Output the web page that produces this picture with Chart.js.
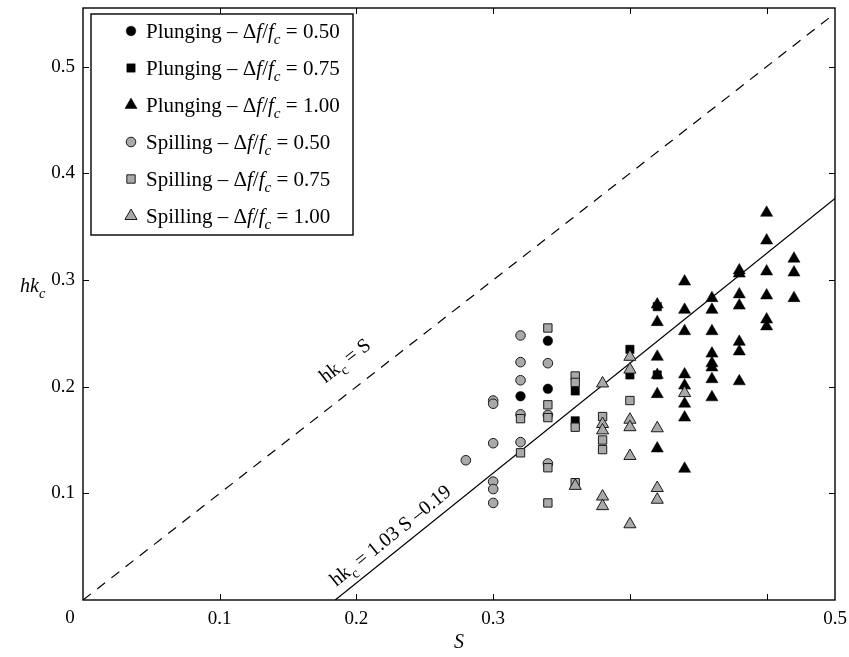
<!DOCTYPE html>
<html><head><meta charset="utf-8">
<script src="https://cdn.jsdelivr.net/npm/chart.js@4/dist/chart.umd.min.js"></script>
<style>html,body{margin:0;padding:0;background:#fff;}#wrap{width:849px;height:657px;position:relative;}canvas{display:block;}</style>
</head><body><div id="wrap"><canvas id="c" width="849" height="657" style="width:849px;height:657px"></canvas></div>
<script>
// ---- data ----
const plungeCircleS  = [0.32, 0.34, 0.34];
const plungeCircleHk = [0.191, 0.243, 0.198];

const plungeSquareS  = [0.36, 0.36, 0.40, 0.40, 0.42, 0.42];
const plungeSquareHk = [0.196, 0.168, 0.235, 0.211, 0.275, 0.211];

const plungeTriS  = [0.42,0.42,0.42,0.42,0.42,0.42,
                     0.44,0.44,0.44,0.44,0.44,0.44,0.44,0.44,
                     0.46,0.46,0.46,0.46,0.46,0.46,0.46,0.46,
                     0.48,0.48,0.48,0.48,0.48,0.48,0.48,
                     0.50,0.50,0.50,0.50,0.50,0.50,
                     0.52,0.52,0.52];
const plungeTriHk = [0.277,0.2605,0.228,0.211,0.193,0.142,
                     0.2985,0.272,0.252,0.2115,0.201,0.184,0.171,0.123,
                     0.283,0.272,0.252,0.231,0.222,0.218,0.207,0.190,
                     0.309,0.306,0.2865,0.276,0.242,0.233,0.205,
                     0.363,0.337,0.308,0.2855,0.263,0.2565,
                     0.320,0.307,0.283];

const spillCircleS  = [0.28, 0.30,0.30,0.30,0.30,0.30,0.30, 0.32,0.32,0.32,0.32,0.32, 0.34,0.34,0.34];
const spillCircleHk = [0.131, 0.187,0.184,0.147,0.111,0.104,0.091, 0.248,0.223,0.206,0.174,0.148, 0.222,0.1735,0.128];

const spillSquareS  = [0.32,0.32, 0.34,0.34,0.34,0.34,0.34, 0.36,0.36,0.36,0.36, 0.38,0.38,0.38, 0.40];
const spillSquareHk = [0.170,0.138, 0.255,0.183,0.171,0.124,0.091, 0.210,0.204,0.162,0.110, 0.172,0.150,0.141, 0.187];

const spillTriS  = [0.36, 0.38,0.38,0.38,0.38,0.38, 0.40,0.40,0.40,0.40,0.40,0.40, 0.42,0.42,0.42, 0.44];
const spillTriHk = [0.107, 0.203,0.165,0.159,0.097,0.088, 0.228,0.216,0.169,0.162,0.135,0.071, 0.161,0.105,0.094, 0.194];

// reference line hk = S and fitted line hk = 1.03 S - 0.19
const refLineS = [0, 0.55];
const fitSlope = 1.03, fitIntercept = -0.19;
const fitLineS = [-fitIntercept / fitSlope, 0.55];

// axes / ticks
const xMin = 0, xMax = 0.55, yMin = 0, yMax = 0.555;
const xTickValues = [0.1, 0.2, 0.3, 0.4, 0.5, 0.55];
const xTickLabels = ['0.1', '0.2', '0.3', '', '', '0.5'];
const yTickValues = [0.1, 0.2, 0.3, 0.4, 0.5];
const yTickLabels = ['0.1', '0.2', '0.3', '0.4', '0.5'];
const cornerLabel = '0';

const legendLabels = ['Plunging', 'Plunging', 'Plunging', 'Spilling', 'Spilling', 'Spilling'];
const legendRatios = ['0.50', '0.75', '1.00', '0.50', '0.75', '1.00'];

// ---- styles ----
const FONT = "'Liberation Serif','Times New Roman',serif";
const GRAY = '#a9a9a9';
const EDGE = '#1a1a1a';

function pts(xs, ys) { return xs.map((v, i) => ({x: v, y: ys[i]})); }

const markerStyles = [
  {pointStyle: 'circle',   radius: 4.8, bg: '#000', border: '#000', bw: 0.5},
  {pointStyle: 'rect',     radius: 5.9, bg: '#000', border: '#000', bw: 0.5},
  {pointStyle: 'triangle', radius: 7.0, bg: '#000', border: '#000', bw: 0.5},
  {pointStyle: 'circle',   radius: 4.8, bg: GRAY, border: EDGE, bw: 1},
  {pointStyle: 'rect',     radius: 5.9, bg: GRAY, border: EDGE, bw: 1},
  {pointStyle: 'triangle', radius: 7.0, bg: GRAY, border: EDGE, bw: 1},
];
const seriesData = [
  pts(plungeCircleS, plungeCircleHk),
  pts(plungeSquareS, plungeSquareHk),
  pts(plungeTriS, plungeTriHk),
  pts(spillCircleS, spillCircleHk),
  pts(spillSquareS, spillSquareHk),
  pts(spillTriS, spillTriHk),
];

const datasets = seriesData.map((d, i) => ({
  label: legendLabels[i] + ' ' + legendRatios[i],
  data: d,
  pointStyle: markerStyles[i].pointStyle,
  pointRadius: markerStyles[i].radius,
  pointHoverRadius: markerStyles[i].radius,
  backgroundColor: markerStyles[i].bg,
  borderColor: markerStyles[i].border,
  pointBorderWidth: markerStyles[i].bw,
  borderWidth: markerStyles[i].bw,
  showLine: false,
  order: 5 - i
}));
datasets.push({
  label: 'hk = S', type: 'line', data: refLineS.map(s => ({x: s, y: s})),
  borderColor: '#000', borderWidth: 1.2, borderDash: [10, 8], pointRadius: 0, fill: false, order: 10
});
datasets.push({
  label: 'fit', type: 'line', data: fitLineS.map(s => ({x: s, y: fitSlope * s + fitIntercept})),
  borderColor: '#000', borderWidth: 1.2, pointRadius: 0, fill: false, order: 11
});

function segWidth(ctx, segs, size) {
  let w = 0;
  segs.forEach(s => {
    const fs = s.sub ? size * 0.72 : size;
    ctx.font = (s.it ? 'italic ' : '') + fs + 'px ' + FONT;
    w += ctx.measureText(s.t).width;
  });
  return w;
}
function drawSegs(ctx, segs, x, y, size) {
  ctx.textBaseline = 'alphabetic';
  ctx.textAlign = 'left';
  segs.forEach(s => {
    const fs = s.sub ? size * 0.72 : size;
    ctx.font = (s.it ? 'italic ' : '') + fs + 'px ' + FONT;
    ctx.fillText(s.t, x, y + (s.sub ? size * 0.28 : 0));
    x += ctx.measureText(s.t).width;
  });
  return x;
}

function drawMarker(ctx, st, x, y) {
  ctx.save();
  ctx.fillStyle = st.bg; ctx.strokeStyle = st.border; ctx.lineWidth = st.bw;
  ctx.beginPath();
  const r = st.radius;
  if (st.pointStyle === 'circle') {
    ctx.arc(x, y, r, 0, Math.PI * 2);
  } else if (st.pointStyle === 'rect') {
    const s = Math.SQRT1_2 * r;
    ctx.rect(x - s, y - s, 2 * s, 2 * s);
  } else {
    let a = 0;
    ctx.moveTo(x + Math.sin(a) * r, y - Math.cos(a) * r);
    a += 2 * Math.PI / 3;
    ctx.lineTo(x + Math.sin(a) * r, y - Math.cos(a) * r);
    a += 2 * Math.PI / 3;
    ctx.lineTo(x + Math.sin(a) * r, y - Math.cos(a) * r);
    ctx.closePath();
  }
  ctx.fill();
  if (st.bw > 0) ctx.stroke();
  ctx.restore();
}

const decor = {
  id: 'decor',
  afterDatasetsDraw(chart) {
    const {ctx, chartArea: a, scales: {x, y}} = chart;
    ctx.save();
    ctx.strokeStyle = '#000';
    ctx.lineWidth = 1.4;
    ctx.strokeRect(a.left, a.top, a.right - a.left, a.bottom - a.top);
    ctx.lineWidth = 1;
    const L = 6;
    ctx.beginPath();
    xTickValues.forEach(v => {
      if (v <= xMin || v >= xMax) return;
      const px = Math.round(x.getPixelForValue(v)) + 0.5;
      ctx.moveTo(px, a.bottom); ctx.lineTo(px, a.bottom - L);
      ctx.moveTo(px, a.top); ctx.lineTo(px, a.top + L);
    });
    yTickValues.forEach(v => {
      const py = Math.round(y.getPixelForValue(v)) + 0.5;
      ctx.moveTo(a.left, py); ctx.lineTo(a.left + L, py);
      ctx.moveTo(a.right, py); ctx.lineTo(a.right - L, py);
    });
    ctx.stroke();

    ctx.fillStyle = '#000';
    ctx.font = '19px ' + FONT;
    ctx.textAlign = 'center'; ctx.textBaseline = 'middle';
    ctx.fillText(cornerLabel, a.left - 13, a.bottom + 18);

    ctx.font = 'italic 20px ' + FONT;
    ctx.fillText('S', (a.left + a.right) / 2, a.bottom + 43);
    drawSegs(ctx, [{t: 'hk', it: true}, {t: 'c', it: true, sub: true}], 20, y.getPixelForValue(0.3) + 12, 20);

    function lineLabel(segs, s, hk, slopePx, off, size) {
      const ang = Math.atan(slopePx);
      const px = x.getPixelForValue(s), py = y.getPixelForValue(hk);
      const cx = px - Math.sin(ang) * off, cy = py - Math.cos(ang) * off;
      ctx.save();
      ctx.translate(cx, cy);
      ctx.rotate(-ang);
      const w = segWidth(ctx, segs, size);
      drawSegs(ctx, segs, -w / 2, size * 0.33, size);
      ctx.restore();
    }
    const sx = (x.getPixelForValue(1) - x.getPixelForValue(0));
    const sy = (y.getPixelForValue(0) - y.getPixelForValue(1));
    const sRef = 0.204;
    lineLabel([{t: 'hk'}, {t: 'c', sub: true}, {t: ' = S'}], sRef, sRef, sy / sx, 28, 20);
    const sFit = 0.232;
    lineLabel([{t: 'hk'}, {t: 'c', sub: true}, {t: ' = 1.03 S \u20130.19'}], sFit, fitSlope * sFit + fitIntercept, fitSlope * sy / sx, 16, 20);

    const bx = 91, by = 14, bw = 262, bh = 221;
    ctx.fillStyle = '#fff';
    ctx.fillRect(bx, by, bw, bh);
    ctx.strokeStyle = '#000'; ctx.lineWidth = 1.4;
    ctx.strokeRect(bx, by, bw, bh);
    for (let i = 0; i < 6; i++) {
      const ry = 31 + i * 37;
      drawMarker(ctx, markerStyles[i], 131, ry);
      ctx.fillStyle = '#000';
      drawSegs(ctx, [
        {t: legendLabels[i] + ' \u2013 \u0394'}, {t: 'f', it: true}, {t: '/'}, {t: 'f', it: true},
        {t: 'c', it: true, sub: true}, {t: ' = ' + legendRatios[i]}
      ], 146, ry + 7, 21);
    }
    ctx.restore();
  }
};

function zeroPad(s) { s.paddingTop = 0; s.paddingBottom = 0; s.paddingLeft = 0; s.paddingRight = 0; }

new Chart(document.getElementById('c'), {
  type: 'scatter',
  data: {datasets},
  options: {
    responsive: false,
    animation: false,
    events: [],
    devicePixelRatio: 1,
    layout: {padding: {top: 6, right: 14, left: 0, bottom: 0}},
    plugins: {legend: {display: false}, tooltip: {enabled: false}},
    scales: {
      x: {
        type: 'linear', min: xMin, max: xMax,
        grid: {display: false, drawTicks: false},
        border: {display: false},
        afterBuildTicks: s => { s.ticks = xTickValues.map(v => ({value: v})); },
        afterFit: s => { s.height = 57; zeroPad(s); },
        ticks: {
          autoSkip: false, maxRotation: 0, padding: 8, color: '#000',
          font: {family: FONT, size: 19},
          callback: (v, i) => xTickLabels[i]
        }
      },
      y: {
        type: 'linear', min: yMin, max: yMax,
        grid: {display: false, drawTicks: false},
        border: {display: false},
        afterBuildTicks: s => { s.ticks = yTickValues.map(v => ({value: v})); },
        afterFit: s => { s.width = 83; zeroPad(s); },
        ticks: {
          autoSkip: false, padding: 8, color: '#000',
          font: {family: FONT, size: 19},
          callback: (v, i) => yTickLabels[i]
        }
      }
    }
  },
  plugins: [decor]
});
</script>
</body></html>
